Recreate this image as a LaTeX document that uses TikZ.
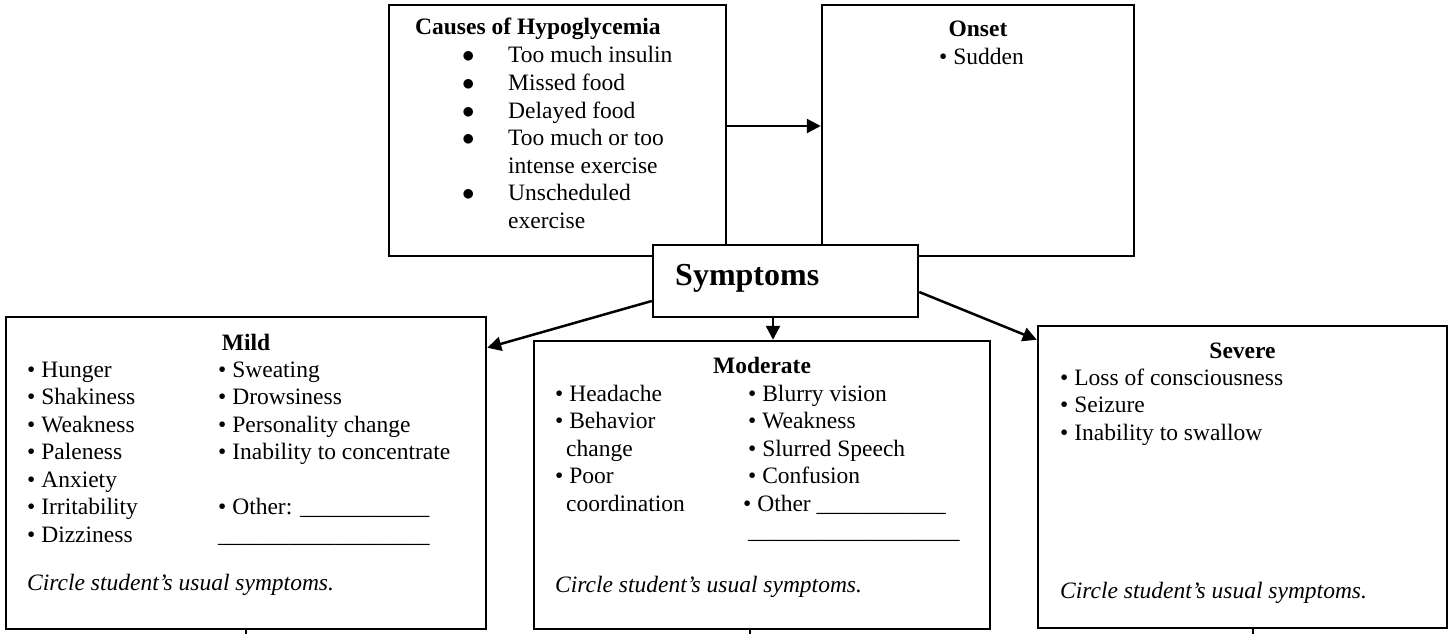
\documentclass[tikz,border=0pt]{standalone}
\usepackage{fontspec}
\setmainfont{Liberation Serif}
\usetikzlibrary{arrows.meta}
\newcommand{\bodyfont}{\fontsize{23.5}{27.5}\selectfont}

\begin{document}
\begin{tikzpicture}[x=1pt,y=-1pt,
		box/.style={draw,line width=2.5pt,inner sep=0pt,fill=white},
		arr/.style={line width=2.5pt,-{Triangle[length=14pt,width=14pt]}},
		txt/.style={inner sep=0pt,anchor=base west,font=\bodyfont},
		head/.style={inner sep=0pt,anchor=base,font=\bodyfont\bfseries}]
	\useasboundingbox (0,0) rectangle (1451,634);
	% causes and onset
	\node[box,minimum width=337pt,minimum height=251pt] (causes) at (557.5,130.5) {};
	\node[txt,font=\bodyfont\bfseries] (causestitle) at (415,35) {Causes of Hypoglycemia};
	\foreach \cause [count=\i from 0] in {Too much insulin,Missed food,Delayed food,Too much or too,intense exercise,Unscheduled,exercise}
		\node[txt] (cause\i) at (508,63+27.5*\i) {\cause};
	\foreach \i in {0,1,2,3,5}
		\node[txt] (dot\i) at (462,63+27.5*\i) {$\bullet$};
	\node[box,minimum width=312pt,minimum height=251pt] (onset) at (978,130.5) {};
	\node[head] (onsettitle) at (978,37) {Onset};
	\node[txt] (sudden) at (939,65) {• Sudden};
	% symptoms
	\node[box,minimum width=265pt,minimum height=72pt] (symptoms) at (785.5,281) {};
	\node[txt,font=\fontsize{32}{38}\selectfont\bfseries] (symptomstitle) at (675,285) {Symptoms};
	% mild
	\node[box,minimum width=480pt,minimum height=312pt] (mild) at (246,473) {};
	\node[head] (mildtitle) at (246,350) {Mild};
	\foreach \s [count=\i from 0] in {Hunger,Shakiness,Weakness,Paleness,Anxiety,Irritability,Dizziness}
		\node[txt] (milda\i) at (27,377+27.5*\i) {• \s};
	\foreach \s [count=\i from 0] in {Sweating,Drowsiness,Personality change,Inability to concentrate}
		\node[txt] (mildb\i) at (218,377+27.5*\i) {• \s};
	\node[txt] (mildother) at (218,514.5) {• Other: \_\_\_\_\_\_\_\_\_\_\_};
	\node[txt] (mildline) at (218,542) {\_\_\_\_\_\_\_\_\_\_\_\_\_\_\_\_\_\_};
	\node[txt,font=\bodyfont\itshape] (mildnote) at (27,590) {Circle student’s usual symptoms.};
	% moderate
	\node[box,minimum width=456pt,minimum height=288pt] (moderate) at (762,485) {};
	\node[head] (modtitle) at (762,373) {Moderate};
	\node[txt] (moda0) at (555,401) {• Headache};
	\node[txt] (moda1) at (555,428.5) {• Behavior};
	\node[txt] (moda2) at (566,456) {change};
	\node[txt] (moda3) at (555,483.5) {• Poor};
	\node[txt] (moda4) at (566,511) {coordination};
	\foreach \s [count=\i from 0] in {Blurry vision,Weakness,Slurred Speech,Confusion}
		\node[txt] (modb\i) at (748,401+27.5*\i) {• \s};
	\node[txt] (modother) at (743,511) {• Other \_\_\_\_\_\_\_\_\_\_\_};
	\node[txt] (modline) at (748,538.5) {\_\_\_\_\_\_\_\_\_\_\_\_\_\_\_\_\_\_};
	\node[txt,font=\bodyfont\itshape] (modnote) at (555,592) {Circle student’s usual symptoms.};
	% severe
	\node[box,minimum width=409pt,minimum height=302pt] (severe) at (1242.5,477) {};
	\node[head] (sevtitle) at (1242.5,358) {Severe};
	\foreach \s [count=\i from 0] in {Loss of consciousness,Seizure,Inability to swallow}
		\node[txt] (sev\i) at (1060,385+27.5*\i) {• \s};
	\node[txt,font=\bodyfont\itshape] (sevnote) at (1060,598) {Circle student’s usual symptoms.};
	% arrows
	\draw[arr] ([yshift=4.5pt]causes.east) -- ([yshift=4.5pt]onset.west);
	\draw[arr] ([yshift=-20pt]symptoms.west) -- ([yshift=-32pt]mild.north east);
	\coordinate (modin) at ([xshift=-12.5pt]symptoms.south);
	\draw[arr] (modin) -- (modin |- moderate.north);
	\draw[arr] ([yshift=-11pt]symptoms.east) -- ([yshift=-15pt]severe.north west);
	% lines leaving the page
	\coordinate (mildout) at (246,634);
	\coordinate (modout) at (750,634);
	\coordinate (sevout) at (1253,634);
	\draw[line width=2.5pt] (mild.south) -- (mildout);
	\draw[line width=2.5pt] (moderate.south -| modout) -- (modout);
	\draw[line width=2.5pt] (severe.south -| sevout) -- (sevout);
\end{tikzpicture}
\end{document}
